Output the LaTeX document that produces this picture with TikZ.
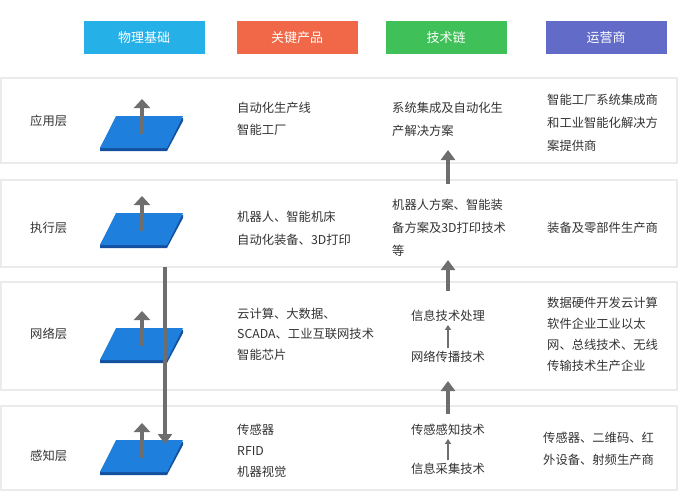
\documentclass[tikz,border=0pt]{standalone}
\usepackage{fontspec}
\setmainfont{Noto Sans CJK SC}
\usetikzlibrary{arrows.meta}
\definecolor{txt}{HTML}{333333}
\definecolor{arr}{HTML}{6E6E6E}
\definecolor{cb1}{RGB}{38,176,232}
\definecolor{cb2}{RGB}{240,104,72}
\definecolor{cb3}{RGB}{64,192,88}
\definecolor{cb4}{RGB}{98,108,200}
\definecolor{pdark}{RGB}{20,80,160}
\definecolor{plight}{RGB}{30,128,220}
\begin{document}
\begin{tikzpicture}[x=1pt,y=-1pt,
  hdr/.style={minimum width=121pt,minimum height=33pt,inner sep=0,text=white,font=\fontsize{13}{15}\selectfont},
  row/.style={draw=black!8,line width=1.2pt,fill=white},
  t/.style={anchor=west,inner sep=0,text=txt,font=\fontsize{12.3}{14}\selectfont},
  tc/.style={inner sep=0,text=txt,font=\fontsize{12.3}{14}\selectfont},
  big/.style={draw=arr,line width=4.5pt,-{Triangle[width=14pt,length=10pt]}},
  thin/.style={draw=arr,line width=1.2pt,-{Triangle[width=6pt,length=5pt]}}]
\useasboundingbox (0,0) rectangle (680,495);
\fill[white] (0,0) rectangle (680,495);
\node[hdr,fill=cb1] (h1) at (144,38) {物理基础};
\node[hdr,fill=cb2] (h2) at (297,38) {关键产品};
\node[hdr,fill=cb3] (h3) at (446,38) {技术链};
\node[hdr,fill=cb4] (h4) at (606,38) {运营商};
\draw[row] (1,78) rectangle (677,163);
\draw[row] (1,180) rectangle (677,267);
\draw[row] (1,282) rectangle (677,390);
\draw[row] (1,406) rectangle (677,490);
\node[t] (l1) at (30,121) {应用层};
\node[t] (l2) at (30,228) {执行层};
\node[t] (l3) at (30,334) {网络层};
\node[t] (l4) at (30,456) {感知层};
\foreach \y/\n in {116/p1,213/p2,328/p3,440/p4}{
  \fill[pdark] (100,\y+32) -- (116,\y+2) -- (183,\y+2) -- (183,\y+5) -- (167,\y+35) -- (100,\y+35) -- cycle;
  \fill[plight] (100,\y+32) -- (116,\y) -- (183,\y) -- (167,\y+32) -- cycle;
  \coordinate (\n) at (142,\y+18);
  \coordinate (\n t) at (142,\y-17);
  \draw[draw=arr,line width=4pt,-{Triangle[width=16pt,length=9pt]}] (\n) -- (\n t);
}
\coordinate (va) at (165,267);
\coordinate (vb) at (165,444);
\draw[big,line width=4pt] (va) -- (vb);
\node[t] (k1) at (237,108) {自动化生产线};
\node[t] (k1b) at (237,130) {智能工厂};
\node[t] (k2) at (237,217) {机器人、智能机床};
\node[t] (k2b) at (237,240) {自动化装备、3D打印};
\node[t] (k3) at (237,314) {云计算、大数据、};
\node[t] (k3b) at (237,334) {SCADA、工业互联网技术};
\node[t] (k3c) at (237,355) {智能芯片};
\node[t] (k4) at (237,430) {传感器};
\node[t] (k4b) at (237,451) {RFID};
\node[t] (k4c) at (237,472) {机器视觉};
\node[t] (c1) at (392,108) {系统集成及自动化生};
\node[t] (c1b) at (392,131) {产解决方案};
\node[t] (c2) at (392,205) {机器人方案、智能装};
\node[t] (c2b) at (392,228) {备方案及3D打印技术};
\node[t] (c2c) at (392,251) {等};
\node[tc] (c3) at (448,316) {信息技术处理};
\node[tc] (c3b) at (448,357) {网络传播技术};
\node[tc] (c4) at (448,430) {传感感知技术};
\node[tc] (c4b) at (448,469) {信息采集技术};
\coordinate (a1s) at (448,184); \coordinate (a1e) at (448,150);
\coordinate (a2s) at (448,291); \coordinate (a2e) at (448,260);
\coordinate (a3s) at (448,414); \coordinate (a3e) at (448,381);
\draw[big] (a1s) -- (a1e);
\draw[big] (a2s) -- (a2e);
\draw[big] (a3s) -- (a3e);
\draw[thin] ([yshift=3pt]c3b.north) -- ([yshift=-3pt]c3.south);
\draw[thin] ([yshift=3pt]c4b.north) -- ([yshift=-3pt]c4.south);
\node[t] (o1) at (547,100) {智能工厂系统集成商};
\node[t] (o1b) at (547,123) {和工业智能化解决方};
\node[t] (o1c) at (547,146) {案提供商};
\node[t] (o2) at (547,228) {装备及零部件生产商};
\node[t] (o3) at (547,303) {数据硬件开发云计算};
\node[t] (o3b) at (547,324) {软件企业工业以太};
\node[t] (o3c) at (547,345) {网、总线技术、无线};
\node[t] (o3d) at (547,366) {传输技术生产企业};
\node[t] (o4) at (543,438) {传感器、二维码、红};
\node[t] (o4b) at (543,460) {外设备、射频生产商};
\end{tikzpicture}
\end{document}
